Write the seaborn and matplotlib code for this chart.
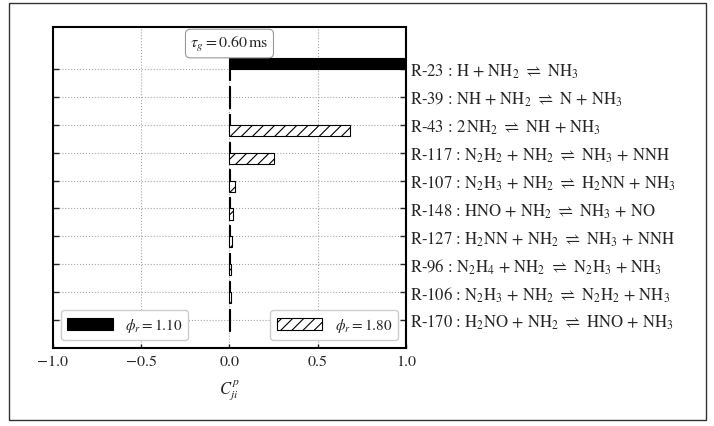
import matplotlib
matplotlib.use("Agg")
import matplotlib.pyplot as plt
import numpy as np
import pandas as pd
import seaborn as sns
from matplotlib.patches import Patch, Rectangle

# Reactions (top to bottom) and their sensitivity coefficients C^p_ji
reactions = [
    r"R-23 : H + NH$_2$ $\rightleftharpoons$ NH$_3$",
    r"R-39 : NH + NH$_2$ $\rightleftharpoons$ N + NH$_3$",
    r"R-43 : 2$\,$NH$_2$ $\rightleftharpoons$ NH + NH$_3$",
    r"R-117 : N$_2$H$_2$ + NH$_2$ $\rightleftharpoons$ NH$_3$ + NNH",
    r"R-107 : N$_2$H$_3$ + NH$_2$ $\rightleftharpoons$ H$_2$NN + NH$_3$",
    r"R-148 : HNO + NH$_2$ $\rightleftharpoons$ NH$_3$ + NO",
    r"R-127 : H$_2$NN + NH$_2$ $\rightleftharpoons$ NH$_3$ + NNH",
    r"R-96 : N$_2$H$_4$ + NH$_2$ $\rightleftharpoons$ N$_2$H$_3$ + NH$_3$",
    r"R-106 : N$_2$H$_3$ + NH$_2$ $\rightleftharpoons$ N$_2$H$_2$ + NH$_3$",
    r"R-170 : H$_2$NO + NH$_2$ $\rightleftharpoons$ HNO + NH$_3$",
]
c_phi110 = [1.00, 0.003, 0.003, 0.003, 0.003, 0.003, 0.003, 0.003, 0.003, 0.003]
c_phi180 = [0.004, 0.004, 0.68, 0.25, 0.034, 0.020, 0.012, 0.008, 0.006, 0.005]
phi_levels = ["1.10", "1.80"]
phi_legend = [r"$\phi_r = 1.10$", r"$\phi_r = 1.80$"]
tau_label = r"$\tau_g = 0.60\,\mathrm{ms}$"
x_ticks = [-1.0, -0.5, 0.0, 0.5, 1.0]

df = pd.DataFrame({
    "reaction": reactions * 2,
    "C": c_phi110 + c_phi180,
    "phi": [phi_levels[0]] * len(reactions) + [phi_levels[1]] * len(reactions),
})

sns.set_style("ticks")
plt.rcParams["font.family"] = ["STIXGeneral", "DejaVu Serif"]
plt.rcParams["mathtext.fontset"] = "stix"
plt.rcParams["font.size"] = 11
plt.rcParams["hatch.linewidth"] = 0.8

fig = plt.figure(figsize=(7.14, 4.27), dpi=100)
ax = fig.add_axes([0.0742, 0.183, 0.4944, 0.751])

sns.barplot(
    data=df, x="C", y="reaction", hue="phi", order=reactions,
    hue_order=phi_levels, orient="h", dodge=True, width=0.8,
    palette={phi_levels[0]: "black", phi_levels[1]: "white"},
    edgecolor="black", linewidth=0.8, saturation=1, errorbar=None,
    legend=False, ax=ax,
)
for bar in ax.containers[1]:
    bar.set_hatch("///")

ax.set_xlim(-1.0, 1.0)
ax.set_ylim(10.0, -1.5)
ax.set_xticks(x_ticks)
ax.set_xlabel(r"$C^{p}_{ji}$", fontsize=12, labelpad=7)
ax.set_ylabel("")

ax.set_axisbelow(True)
ax.grid(True, linestyle=":", color="0.65", linewidth=0.8)

for s in ax.spines.values():
    s.set_linewidth(1.5)
    s.set_color("black")

ax.tick_params(axis="y", left=True, right=True, labelleft=False,
               labelright=True, direction="in", length=4, width=1, pad=3,
               labelsize=12)
ax.tick_params(axis="x", direction="in", length=3, width=1, labelsize=11.5, pad=5)

ax.text(0.5, 0.949, tau_label, transform=ax.transAxes, ha="center",
        va="center", fontsize=11.5,
        bbox=dict(boxstyle="round,pad=0.3", fc="white", ec="0.6", lw=0.8))

h_black = Patch(facecolor="black", edgecolor="black", linewidth=0.8)
h_hatch = Patch(facecolor="white", edgecolor="black", hatch="///", linewidth=0.8)
leg1 = ax.legend([h_black], [phi_legend[0]], loc="lower left",
                 handlelength=3.0, handleheight=0.8, fancybox=True,
                 framealpha=1, edgecolor="0.8", fontsize=11,
                 borderaxespad=0.5)
ax.add_artist(leg1)
ax.legend([h_hatch], [phi_legend[1]], loc="lower right",
          handlelength=3.0, handleheight=0.8, fancybox=True,
          framealpha=1, edgecolor="0.8", fontsize=11, borderaxespad=0.5)

# Frame around the whole figure
fig.patches.append(Rectangle((0.0126, 0.014), 0.9764, 0.9766,
                             transform=fig.transFigure, fill=False,
                             edgecolor="0.2", linewidth=1.0))

fig.savefig("out.png", dpi=100)
